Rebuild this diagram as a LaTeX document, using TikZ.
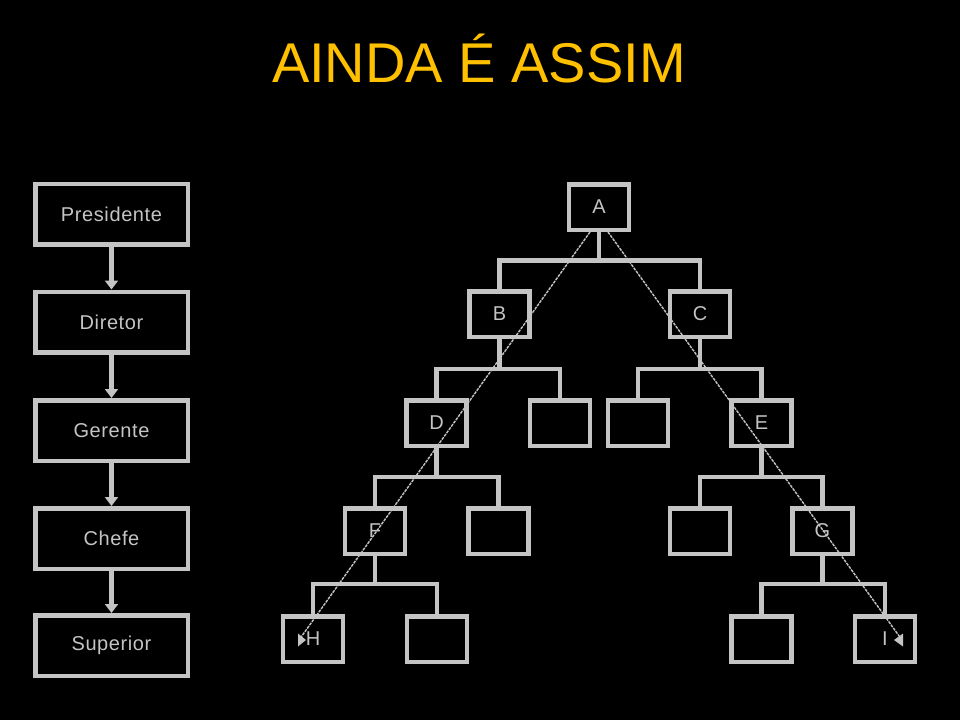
\documentclass[tikz,border=0pt]{standalone}
\usepackage{fontspec}
\setmainfont{Liberation Sans}
\usetikzlibrary{arrows.meta,calc}
\definecolor{titleyellow}{RGB}{255,192,0}
\definecolor{boxgray}{RGB}{196,196,196}
\begin{document}
\begin{tikzpicture}[x=1pt,y=-1pt,
  boxfont/.style={font=\fontsize{20}{20}\selectfont\addfontfeatures{LetterSpace=3}},
  bigbox/.style={draw=boxgray,line width=4.5pt,minimum width=152.5pt,minimum height=60.5pt,inner sep=0pt,text=boxgray,boxfont},
  treebox/.style={draw=boxgray,line width=4.5pt,minimum width=60pt,minimum height=45.5pt,inner sep=0pt,text=boxgray,boxfont},
  flowarrow/.style={draw=boxgray,line width=4.5pt,-{Triangle[width=13pt,length=9pt]}},
  treeline/.style={draw=boxgray,line width=4.5pt},
  diagline/.style={draw=boxgray,line width=1.4pt,dash pattern=on 3pt off 1pt},
  tipmark/.style={fill=boxgray}
]
\fill[black] (0,0) rectangle (960,720);
\useasboundingbox (0,0) rectangle (960,720);

\node[anchor=base,text=titleyellow,font=\fontsize{56}{56}\selectfont] (title) at (479,82) {AINDA É ASSIM};

% left column
\node[bigbox] (pres) at (111.5,214) {Presidente};
\node[bigbox] (dir) at (111.5,322) {Diretor};
\node[bigbox] (ger) at (111.5,430.5) {Gerente};
\node[bigbox] (chef) at (111.5,538.5) {Chefe};
\node[bigbox] (sup) at (111.5,645.5) {Superior};
\draw[flowarrow] (pres.south) -- (dir.north);
\draw[flowarrow] (dir.south) -- (ger.north);
\draw[flowarrow] (ger.south) -- (chef.north);
\draw[flowarrow] (chef.south) -- (sup.north);

% tree
\node[treebox] (A) at (599,207) {A};
\node[treebox] (B) at (499.5,314) {B};
\node[treebox] (C) at (700,314) {C};
\node[treebox] (D) at (436.5,423) {D};
\node[treebox] (e1) at (560,423) {};
\node[treebox] (e2) at (638,423) {};
\node[treebox] (E) at (761.5,423) {E};
\node[treebox] (F) at (375,531) {F};
\node[treebox] (e3) at (498.5,531) {};
\node[treebox] (e4) at (700,531) {};
\node[treebox] (G) at (822.5,531) {G};
\node[treebox] (H) at (313,639) {H};
\node[treebox] (e5) at (437,639) {};
\node[treebox] (e6) at (761.5,639) {};
\node[treebox] (I) at (885,639) {I};

\foreach \p/\l/\r/\y in {A/B/C/260.5, B/D/e1/369, C/e2/E/369, D/F/e3/477, E/e4/G/477, F/H/e5/584, G/e6/I/584}{
  \draw[treeline] (\p.south) -- (\p.south |- 0,\y);
  \draw[treeline,line cap=rect] (\l.north |- 0,\y) -- (\r.north |- 0,\y);
  \draw[treeline] (\l.north |- 0,\y) -- (\l.north);
  \draw[treeline] (\r.north |- 0,\y) -- (\r.north);
}

% diagonal paths
\coordinate (hend) at (299,640);
\coordinate (iend) at (902,640);
\draw[diagline] ($(A.south)+(-9,0)$) -- (hend);
\draw[diagline] ($(A.south)+(9,0)$) -- (iend);
\fill[tipmark] (298,633.5) -- (306,640) -- (298,646.5) -- cycle;
\fill[tipmark] (903,633.5) -- (894,640) -- (903,646.5) -- cycle;
\end{tikzpicture}
\end{document}
